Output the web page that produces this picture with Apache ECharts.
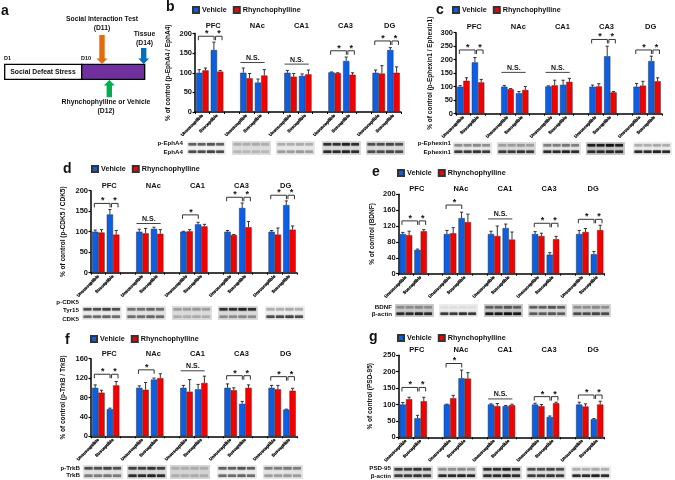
<!DOCTYPE html>
<html>
<head>
<meta charset="utf-8">
<style>html,body{margin:0;padding:0;background:#fff}#chart{width:675px;height:480px}</style>
<script src="https://cdn.jsdelivr.net/npm/echarts@6/dist/echarts.min.js"></script>
</head>
<body>
<div id="chart"></div>
<script>
const regions = ['PFC', 'NAc', 'CA1', 'CA3', 'DG'];
const groups = ['Unsusceptible', 'Susceptible'];

// order in each list: U,S for PFC, U,S for NAc, ...
const bVehicle = [100, 158, 100, 75, 100, 92, 101, 130, 100, 158];
const bVehicleTop = [108, 178, 112, 84, 106, 97, 102, 140, 107, 164];
const bRhyn = [106, 103, 86, 93, 90, 96, 99, 95, 98, 100];
const bRhynTop = [112, 106, 98, 108, 98, 107, 100, 100, 118, 115];
const bMarks = ['both', 'ns', 'ns', 'both', 'both'];
const bLevels = [193, 126, 122, 156, 181];

const cVehicle = [100, 190, 100, 76, 101, 107, 100, 213, 100, 195];
const cVehicleTop = [104, 208, 104, 82, 103, 124, 106, 250, 112, 213];
const cRhyn = [122, 116, 91, 88, 105, 118, 101, 79, 104, 120];
const cRhynTop = [133, 127, 93, 101, 124, 131, 111, 82, 120, 133];
const cMarks = ['both', 'ns', 'ns', 'both', 'both'];
const cLevels = [236, 153, 153, 275, 236];

const dVehicle = [100, 142, 100, 107, 100, 118, 100, 158, 100, 165];
const dVehicleTop = [104, 154, 106, 111, 101, 123, 103, 170, 103, 175];
const dRhyn = [98, 93, 96, 95, 101, 113, 92, 111, 93, 105];
const dRhynTop = [105, 103, 108, 105, 105, 118, 93, 125, 109, 114];
const dMarks = ['both', 'ns', 'one', 'both', 'both'];
const dLevels = [169, 120, 141, 184, 189];

const eVehicle = [100, 60, 100, 140, 100, 115, 100, 48, 100, 49];
const eVehicleTop = [104, 62, 109, 155, 107, 125, 106, 53, 109, 56];
const eRhyn = [97, 107, 102, 130, 95, 86, 95, 87, 105, 110];
const eRhynTop = [107, 111, 116, 150, 120, 105, 102, 94, 114, 122];
const eMarks = ['both', 'one', 'ns', 'both', 'both'];
const eLevels = [133, 173, 138, 127, 137];

const fVehicle = [100, 56, 100, 117, 100, 97, 100, 67, 100, 55];
const fVehicleTop = [106, 58, 104, 120, 105, 107, 108, 72, 105, 56];
const fRhyn = [90, 105, 96, 120, 92, 110, 95, 100, 97, 94];
const fRhynTop = [95, 113, 111, 129, 117, 124, 100, 106, 105, 99];
const fMarks = ['both', 'one', 'ns', 'both', 'both'];
const fLevels = [128, 137, 135, 125, 123];

const gVehicle = [100, 58, 100, 180, 100, 95, 100, 62, 100, 55];
const gVehicleTop = [106, 67, 101, 205, 102, 97, 104, 65, 107, 57];
const gRhyn = [116, 110, 119, 179, 95, 98, 95, 104, 94, 100];
const gRhynTop = [122, 122, 128, 197, 103, 101, 100, 107, 102, 110];
const gMarks = ['both', 'one', 'ns', 'both', 'both'];
const gLevels = [152, 225, 117, 124, 129];

const BLUE = '#0b5fe6';
const RED = '#f50000';
const INK = '#111';
const FONT = '"Liberation Sans", Arial, sans-serif';
const STEP = 14.7;
const BAR = 6.3;

const panels = [
    {vehicle: bVehicle, vTop: bVehicleTop, rhyn: bRhyn, rTop: bRhynTop, marks: bMarks, levels: bLevels,
        left: 195, top: 33.5, height: 78.5, max: 200, interval: 50, regionGap: 8, name: '% of control (p-EphA4 / EphA4)', nameGap: 23,
        legend: [192, 6]},
    {vehicle: cVehicle, vTop: cVehicleTop, rhyn: cRhyn, rTop: cRhynTop, marks: cMarks, levels: cLevels,
        left: 456, top: 32.7, height: 81, max: 300, interval: 50, regionGap: 6, name: '% of control (p-Ephexin1 / Ephexin1)', nameGap: 22,
        legend: [452, 6]},
    {vehicle: dVehicle, vTop: dVehicleTop, rhyn: dRhyn, rTop: dRhynTop, marks: dMarks, levels: dLevels,
        left: 91, top: 190.7, height: 82, max: 200, interval: 50, regionGap: 5, name: '% of control (p-CDK5 / CDK5)', nameGap: 24,
        legend: [91, 165]},
    {vehicle: eVehicle, vTop: eVehicleTop, rhyn: eRhyn, rTop: eRhynTop, marks: eMarks, levels: eLevels,
        left: 398.6, top: 194.3, height: 79.4, max: 200, interval: 40, regionGap: 5, name: '% of control (BDNF)', nameGap: 23,
        legend: [397, 169]},
    {vehicle: fVehicle, vTop: fVehicleTop, rhyn: fRhyn, rTop: fRhynTop, marks: fMarks, levels: fLevels,
        left: 91, top: 358.7, height: 77.6, max: 160, interval: 40, regionGap: 5, name: '% of control (p-TrkB / TrkB)', nameGap: 24,
        legend: [90, 335]},
    {vehicle: gVehicle, vTop: gVehicleTop, rhyn: gRhyn, rTop: gRhynTop, marks: gMarks, levels: gLevels,
        left: 398.6, top: 355.3, height: 82, max: 250, interval: 50, regionGap: 5, name: '% of control (PSD-95)', nameGap: 25,
        legend: [397, 334]}
];

// blot strips: x of each of the five pieces, then [background, upper band, lower band]
const blots = [
    {xs: [187, 232, 276, 322, 366], w: 39, y: 141, h: 14, label: 'p-EphA4', label2: 'EphA4', right: 183, ly: 143, ly2: 152,
        tones: [['#f4f4f4', '#555', '#444'], ['#ddd', '#aaa', '#b5b5b5'], ['#e8e8e8', '#aaa', '#999'], ['#ddd', '#222', '#222'], ['#ddd', '#444', '#444']]},
    {xs: [453, 497, 542, 586, 633], w: 39, y: 142, h: 13, label: 'p-Ephexin1', label2: 'Ephexin1', right: 451, ly: 143, ly2: 152,
        tones: [['#ebebeb', '#888', '#333'], ['#ddd', '#999', '#333'], ['#e8e8e8', '#777', '#222'], ['#ccc', '#111', '#222'], ['#eee', '#aaa', '#222']]},
    {xs: [82, 126, 172, 218, 265], w: 40, y: 306, h: 14, label: 'Tyr15', label2: 'CDK5', right: 79, ly: 310, ly2: 319,
        tones: [['#eee', '#444', '#666'], ['#e5e5e5', '#666', '#666'], ['#ddd', '#999', '#aaa'], ['#ddd', '#222', '#888'], ['#eee', '#aaa', '#444']]},
    {xs: [395, 439, 484, 528, 572], w: 39, y: 304, h: 13, label: 'BDNF', label2: 'β-actin', right: 392, ly: 307, ly2: 314,
        tones: [['#ccc', '#888', '#222'], ['#ededed', '#ddd', '#333'], ['#ccc', '#555', '#111'], ['#ddd', '#555', '#555'], ['#d5d5d5', '#888', '#444']]},
    {xs: [83, 127, 170, 217, 263], w: 40, y: 465, h: 14, label: 'p-TrkB', label2: 'TrkB', right: 80, ly: 468, ly2: 475,
        tones: [['#e5e5e5', '#444', '#777'], ['#ddd', '#333', '#222'], ['#d5d5d5', '#aaa', '#aaa'], ['#eee', '#555', '#666'], ['#e5e5e5', '#777', '#999']]},
    {xs: [393, 437, 482, 526, 571], w: 40, y: 466, h: 13, label: 'PSD-95', label2: 'β-actin', right: 391, ly: 468, ly2: 476,
        tones: [['#ddd', '#333', '#333'], ['#e5e5e5', '#888', '#222'], ['#ddd', '#222', '#222'], ['#e5e5e5', '#444', '#333'], ['#eee', '#aaa', '#222']]}
];

const letters = [['a', 1, 11], ['b', 166, 7], ['c', 436, 10], ['d', 63, 169], ['e', 372, 172], ['f', 65, 340], ['g', 369, 337]];

// 14 slots: U S gap U S gap ... U S
const categories = [];
regions.forEach((r, i) => {
    categories.push(groups[0], groups[1]);
    if (i < regions.length - 1) categories.push('');
});

function spread(vals) {
    const out = [];
    vals.forEach((v, i) => {
        out.push(v);
        if (i % 2 === 1 && i < vals.length - 1) out.push('-');
    });
    return out;
}

function slotOf(i) {
    return Math.floor(i / 2) * 3 + i % 2;
}

function errorSeries(index, tops, means, shift) {
    return {
        type: 'custom', xAxisIndex: index, yAxisIndex: index, z: 3, silent: true,
        data: tops.map((t, i) => [slotOf(i), t, means[i]]),
        renderItem(params, api) {
            const a = api.coord([api.value(0), api.value(2)]);
            const b = api.coord([api.value(0), api.value(1)]);
            const x = a[0] + shift;
            const style = {stroke: '#333', lineWidth: 1};
            return {type: 'group', children: [
                {type: 'line', shape: {x1: x, y1: a[1], x2: x, y2: b[1]}, style},
                {type: 'line', shape: {x1: x - 1.6, y1: b[1], x2: x + 1.6, y2: b[1]}, style}
            ]};
        }
    };
}

function bracket(x1, x2, y) {
    return {type: 'polyline', shape: {points: [[x1, y + 4], [x1, y], [x2, y], [x2, y + 4]]},
        style: {stroke: '#333', lineWidth: 1, fill: null}};
}

function star(x, y) {
    return {type: 'text', style: {x, y: y - 1, text: '*', font: 'bold 9px ' + FONT, fill: INK, textAlign: 'center', textVerticalAlign: 'bottom'}};
}

function markSeries(index, p) {
    return {
        type: 'custom', xAxisIndex: index, yAxisIndex: index, z: 4, silent: true, clip: false,
        data: p.levels.map((l, i) => [i * 3, l]),
        renderItem(params, api) {
            const c = api.coord([api.value(0), api.value(1)]);
            const s = api.size([1, 0])[0];
            const kind = p.marks[params.dataIndex];
            const x = c[0], y = c[1];
            let children;
            if (kind === 'ns') {
                children = [
                    {type: 'line', shape: {x1: x - 6, y1: y, x2: x + s + 3.5, y2: y}, style: {stroke: '#444', lineWidth: 1}},
                    {type: 'text', style: {x: x + s / 2 - 1, y: y - 1, text: 'N.S.', font: 'bold 7px ' + FONT, fill: INK, textAlign: 'center', textVerticalAlign: 'bottom'}}
                ];
            } else if (kind === 'one') {
                children = [bracket(x - 4, x + s - 3, y), star(x + s / 2 - 3, y + 3)];
            } else {
                children = [
                    bracket(x - 4, x + s - 3, y), star(x + s / 2 - 3, y + 3),
                    bracket(x + s - 1.5, x + s + 5, y), star(x + s + 2, y + 3)
                ];
            }
            return {type: 'group', children};
        }
    };
}

function regionSeries(index, p) {
    return {
        type: 'custom', xAxisIndex: index, yAxisIndex: index, silent: true, clip: false,
        data: regions.map((r, i) => [i * 3, p.max]),
        renderItem(params, api) {
            const c = api.coord([api.value(0), api.value(1)]);
            const s = api.size([1, 0])[0];
            return {type: 'text', style: {x: c[0] + s / 2 + 3.5, y: c[1] - p.regionGap, text: regions[params.dataIndex],
                font: 'bold 7.5px ' + FONT, fill: INK, textAlign: 'center', textVerticalAlign: 'middle'}};
        }
    };
}

const grid = [], xAxis = [], yAxis = [], series = [], legend = [];
panels.forEach((p, i) => {
    grid.push({left: p.left, top: p.top, width: STEP * categories.length, height: p.height});
    xAxis.push({
        type: 'category', gridIndex: i, data: categories,
        axisLine: {lineStyle: {color: '#000', width: 1.5}},
        axisTick: {show: true, length: 2, lineStyle: {color: '#000', width: 1}},
        axisLabel: {interval: 0, rotate: 45, fontSize: 4.3, fontWeight: 'bold', color: '#000', fontFamily: FONT, margin: 3,
            textBorderColor: '#000', textBorderWidth: 0.25}
    });
    yAxis.push({
        type: 'value', gridIndex: i, min: 0, max: p.max, interval: p.interval,
        name: p.name, nameLocation: 'middle', nameGap: p.nameGap, nameRotate: 90,
        nameTextStyle: {fontSize: 6.5, fontWeight: 'bold', color: INK, fontFamily: FONT},
        splitLine: {show: false},
        axisLine: {show: true, lineStyle: {color: '#000', width: 1.5}},
        axisTick: {show: true, length: 2.5, lineStyle: {color: '#000', width: 1.2}},
        axisLabel: {fontSize: 7.5, fontWeight: 'bold', color: INK, fontFamily: FONT, margin: 3}
    });
    const barStyle = (color) => ({color, borderColor: '#333', borderWidth: 0.5});
    series.push(
        {name: 'Vehicle', type: 'bar', xAxisIndex: i, yAxisIndex: i, barWidth: BAR, barGap: 0, data: spread(p.vehicle), itemStyle: barStyle(BLUE)},
        {name: 'Rhynchophylline', type: 'bar', xAxisIndex: i, yAxisIndex: i, barWidth: BAR, barGap: 0, data: spread(p.rhyn), itemStyle: barStyle(RED)},
        errorSeries(i, p.vTop, p.vehicle, -BAR / 2),
        errorSeries(i, p.rTop, p.rhyn, BAR / 2),
        markSeries(i, p),
        regionSeries(i, p)
    );
    legend.push({
        data: ['Vehicle', 'Rhynchophylline'], left: p.legend[0], top: p.legend[1], padding: 0,
        icon: 'rect', itemWidth: 6, itemHeight: 6, itemGap: 6, selectedMode: false,
        textStyle: {fontSize: 7.2, fontWeight: 'bold', color: INK, fontFamily: FONT, padding: [0, 0, 0, -2]}
    });
});

const graphic = [];

function label(x, y, text, size, align) {
    graphic.push({type: 'text', x, y, silent: true, style: {text, font: 'bold ' + size + 'px ' + FONT, fill: INK, textAlign: align || 'center', textVerticalAlign: 'middle'}});
}

function arrow(cx, y1, y2, color) {
    const dir = y2 > y1 ? 1 : -1;
    const neck = y2 - dir * 5.5;
    graphic.push({type: 'polygon', silent: true, shape: {points: [[cx - 2.7, y1], [cx + 2.7, y1], [cx + 2.7, neck], [cx + 5.5, neck], [cx, y2], [cx - 5.5, neck], [cx - 2.7, neck]]}, style: {fill: color}});
}

// panel a timeline
graphic.push({type: 'rect', silent: true, shape: {x: 4.7, y: 64.3, width: 77, height: 15}, style: {fill: '#fff', stroke: '#000', lineWidth: 1.3}});
graphic.push({type: 'rect', silent: true, shape: {x: 81.7, y: 64.3, width: 63, height: 15}, style: {fill: '#7030a0', stroke: '#000', lineWidth: 1.3}});
arrow(102, 35, 64, '#e36c0a');
arrow(143.7, 48, 64, '#0070c0');
arrow(109.3, 97.3, 80, '#00b050');
label(43, 72, 'Social Defeat Stress', 6.8);
label(4, 58, 'D1', 5.5, 'left');
label(81, 58, 'D10', 5.5, 'left');
label(102, 19.5, 'Social Interaction Test', 6.8);
label(102, 28, '(D11)', 6.8);
label(144.5, 34.5, 'Tissue', 6.8);
label(144.5, 43, '(D14)', 6.8);
label(106, 102, 'Rhynchophylline or Vehicle', 6.8);
label(106, 111, '(D12)', 6.8);

letters.forEach(l => label(l[1], l[2], l[0], 14, 'left'));

blots.forEach(b => {
    b.xs.forEach((x, k) => {
        const t = b.tones[k];
        graphic.push({type: 'rect', silent: true, shape: {x, y: b.y, width: b.w, height: b.h}, style: {fill: t[0]}});
        for (let n = 0; n < 4; n++) {
            const bx = x + 1.5 + n * (b.w - 2) / 4;
            const bw = (b.w - 2) / 4 - 1.5;
            graphic.push({type: 'rect', silent: true, shape: {x: bx, y: b.y + 2, width: bw, height: 2.5},
                style: {fill: t[1], opacity: n === 2 ? 1 : 0.8, shadowBlur: 1.5, shadowColor: t[1]}});
            graphic.push({type: 'rect', silent: true, shape: {x: bx, y: b.y + b.h - 4.5, width: bw, height: 2.5},
                style: {fill: t[2], opacity: n === 2 ? 1 : 0.85, shadowBlur: 1.5, shadowColor: t[2]}});
        }
    });
    label(b.right, b.ly, b.label, 6.2, 'right');
    label(b.right, b.ly2, b.label2, 6.2, 'right');
});
label(79, 302.5, 'p-CDK5', 6.2, 'right');

const chart = echarts.init(document.getElementById('chart'));
chart.setOption({
    animation: false,
    backgroundColor: '#fff',
    tooltip: {show: false},
    grid, xAxis, yAxis, series, legend, graphic
});
</script>
</body>
</html>
